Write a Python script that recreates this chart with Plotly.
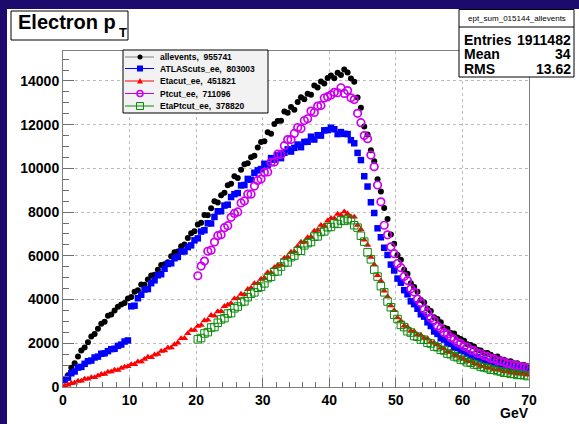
import numpy as np
import plotly.graph_objects as go

# ---------------- data (0.5 GeV bins, 0-70 GeV) ----------------
bin_edges = np.arange(0.0, 70.5, 0.5)
bin_centres = 0.5 * (bin_edges[:-1] + bin_edges[1:])

allevents = [
    330, 540, 880, 1090, 1400, 1670, 1810, 2050, 2310, 2420, 2660, 2890, 2980, 3260, 3320, 3500, 3670, 3770, 3840, 4050,
    4120, 4360, 4430, 4690, 4680, 4920, 5100, 5140, 5360, 5580, 5610, 5710, 5980, 6160, 6200, 6440, 6520, 6820, 7030, 7120,
    7430, 7510, 7870, 7860, 8180, 8500, 8440, 8770, 8890, 9230, 9300, 9640, 9560, 9940, 10190, 10230, 10510, 10580, 10960, 11210,
    11240, 11650, 11590, 12030, 12170, 12180, 12600, 12540, 12810, 12680, 13040, 13260, 13160, 13410, 13370, 13790, 13700, 13970, 13880, 14140,
    14250, 14120, 14370, 14270, 14520, 14390, 14110, 13960, 13240, 12770, 11920, 11550, 10830, 10330, 9500, 8940, 8190, 7690, 6980, 6550,
    6040, 5820, 5360, 5180, 4750, 4580, 4360, 3980, 3870, 3590, 3480, 3190, 3110, 2960, 2720, 2660, 2470, 2450, 2260, 2200,
    2110, 1950, 1920, 1850, 1700, 1670, 1550, 1550, 1480, 1370, 1390, 1270, 1250, 1170, 1180, 1090, 1090, 1000, 1010, 950,
]
atlascuts_ee = [
    320, 430, 630, 710, 890, 920, 1060, 1180, 1210, 1350, 1390, 1520, 1540, 1640, 1730, 1750, 1880, 1940, 2080, 2130,
    3690, 3720, 4060, 4220, 4460, 4480, 4750, 4880, 5110, 5160, 5410, 5630, 5660, 5890, 5950, 6200, 6200, 6400, 6480, 6710,
    6800, 7110, 7170, 7490, 7480, 7780, 8040, 8040, 8300, 8340, 8690, 8820, 8870, 9220, 9240, 9520, 9480, 9800, 9910, 9970,
    10210, 10160, 10470, 10400, 10600, 10470, 10710, 10870, 10770, 10940, 11090, 10970, 11210, 11220, 11450, 11320, 11520, 11500, 11740, 11750,
    11860, 11790, 11570, 11660, 11580, 11570, 11290, 11150, 10710, 10380, 9640, 9170, 8450, 7960, 7260, 6850, 6370, 6040, 5600, 5330,
    4960, 4770, 4430, 4240, 3920, 3790, 3580, 3330, 3220, 2960, 2790, 2540, 2430, 2230, 2170, 2030, 1970, 1820, 1780, 1660,
    1630, 1510, 1480, 1370, 1370, 1270, 1250, 1150, 1150, 1080, 1070, 980, 980, 950, 880, 880, 820, 830, 770, 770,
]
etacut_ee = [
    70, 100, 170, 190, 270, 280, 370, 370, 440, 440, 520, 580, 590, 690, 700, 780, 770, 860, 920, 940,
    1030, 1040, 1160, 1160, 1270, 1370, 1350, 1470, 1500, 1640, 1660, 1790, 1800, 1940,
    2020, 2220, 2230, 2450, 2600, 2600, 2780, 2830, 3040, 3070, 3280, 3250, 3450, 3460, 3690, 3760, 3820, 4040, 4050, 4250, 4230, 4470, 4530, 4740, 4740, 4940,
    4990, 5240, 5230, 5470, 5570, 5590, 5900, 5950, 6180, 6190, 6440, 6630, 6630, 6840, 6870, 7140, 7180, 7400, 7380, 7600,
    7720, 7710, 7910, 7860, 8020, 7930, 7790, 7780, 7400, 7210, 6730, 6490, 5940, 5600, 5110, 4860, 4400, 4140, 3720, 3500,
    3170, 3020, 2800, 2750, 2560, 2540, 2390, 2380, 2240, 2210, 2050, 2020, 1940, 1790, 1750, 1620, 1590, 1460, 1420, 1320,
    1280, 1180, 1170, 1070, 1050, 950, 950, 880, 870, 790, 790, 770, 700, 710, 650, 660, 600, 610, 590, 550,
]
# Ptcut / EtaPtcut are empty below 20 GeV
ptcut_ee = [
    5090, 5530, 5760, 6210, 6260, 6630, 6920, 6970, 7290, 7380, 7760, 7940, 8010, 8420, 8510, 8820, 8820, 9190, 9450, 9510,
    9820, 9840, 10280, 10290, 10650, 10640, 11040, 11320, 11320, 11600, 11870, 11820, 12190, 12270, 12620, 12560, 12850, 12880, 13220, 13280,
    13360, 13480, 13460, 13690, 13430, 13560, 13230, 13150, 12520, 12090, 11500, 11360, 10610, 10080, 9240, 8470, 7400, 6960, 6410, 6100,
    5650, 5460, 5060, 4870, 4490, 4340, 4020, 3850, 3560, 3410, 3160, 3040, 2790, 2680, 2490, 2420, 2250, 2180, 2030, 1980,
    1850, 1820, 1690, 1660, 1540, 1520, 1430, 1400, 1300, 1290, 1200, 1180, 1140, 1060, 1050, 990, 980, 910, 910, 880,
]
etaptcut_ee = [
    2180, 2240, 2450, 2510, 2720, 2740, 2940, 3090, 3150, 3360, 3380, 3600, 3680, 3890, 3920, 4110, 4270, 4330, 4540, 4590,
    4740, 4980, 5040, 5270, 5290, 5510, 5700, 5700, 5940, 6010, 6230, 6230, 6480, 6580, 6630, 6880, 6890, 7090, 7120, 7310,
    7320, 7480, 7460, 7620, 7600, 7680, 7630, 7400, 7290, 6920, 6650, 6160, 5840, 5370, 5050, 4610, 4330, 3910, 3650, 3310,
    3110, 2840, 2740, 2550, 2490, 2330, 2300, 2170, 2160, 2020, 1990, 1850, 1820, 1700, 1670, 1530, 1500, 1400, 1360, 1250,
    1230, 1130, 1110, 1030, 1010, 920, 900, 860, 790, 790, 730, 710, 650, 660, 600, 600, 550, 560, 540, 500,
]

series_names = ["allevents,  955741", "ATLAScuts_ee,  803003", "Etacut_ee,  451821",
                "Ptcut_ee,  711096", "EtaPtcut_ee,  378820"]
stats_title = "ept_sum_015144_allevents"
stats_rows = [("Entries", "1911482"), ("Mean", "34"), ("RMS", "13.62")]

# ---------------- styling ----------------
W_FIG, H_FIG = 579, 424
PL, PR, PT, PB = 63, 529, 51, 387
PW, PH = PR - PL, PB - PT
NAVY = "#1c0a6c"
FONT = "Liberation Sans"

def px(x):
    return (x - PL) / PW

def py(y):
    return (PB - y) / PH

colors = ["#000000", "#0000ff", "#ff0000", "#cc00ee", "#0a8a0a"]
line_cols = ["#808080", "#0000ff", "#ff0000", "#cc00ee", "#0a8a0a"]

fig = go.Figure()
x_all = bin_centres
x_hi = bin_centres[40:]

fig.add_trace(go.Scatter(x=x_all, y=allevents, mode="markers",
                         marker=dict(symbol="circle", size=6, color=colors[0])))
fig.add_trace(go.Scatter(x=x_all, y=atlascuts_ee, mode="markers",
                         marker=dict(symbol="square", size=6.5, color=colors[1])))
fig.add_trace(go.Scatter(x=x_all, y=etacut_ee, mode="markers",
                         marker=dict(symbol="triangle-up", size=6.5, color=colors[2])))
fig.add_trace(go.Scatter(x=x_hi, y=ptcut_ee, mode="markers",
                         marker=dict(symbol="circle-open", size=7.5, color=colors[3],
                                     line=dict(width=1.7, color=colors[3]))))
fig.add_trace(go.Scatter(x=x_hi, y=etaptcut_ee, mode="markers",
                         marker=dict(symbol="square-open", size=7.5, color=colors[4],
                                     line=dict(width=1, color=colors[4]))))

axis_common = dict(
    showline=True, linecolor="#808080", linewidth=1, mirror=True,
    ticks="inside", tickcolor="#707070", tickwidth=1,
    showgrid=True, gridcolor="#bcbcbc", griddash="dot", gridwidth=1,
    zeroline=False,
    tickfont=dict(family=FONT, size=14, color="black", weight="bold"),
    tickformat="d",
)
fig.update_xaxes(range=[0, 70], dtick=10, ticklen=9,
                 minor=dict(dtick=2, ticklen=5, ticks="inside", tickcolor="#707070", showgrid=False),
                 **axis_common)
fig.update_yaxes(range=[0, 15370], dtick=2000, ticklen=11,
                 minor=dict(dtick=500, ticklen=6, ticks="inside", tickcolor="#707070", showgrid=False),
                 **axis_common)

shapes = []
# white canvas (navy strips remain at top and left)
shapes.append(dict(type="rect", xref="paper", yref="paper", layer="below",
                   x0=px(7), x1=px(W_FIG + 5), y0=py(9), y1=py(H_FIG + 5),
                   fillcolor="white", line=dict(width=0)))
# title box
shapes.append(dict(type="rect", xref="paper", yref="paper", layer="above",
                   x0=px(11), x1=px(128), y0=py(40), y1=py(11),
                   fillcolor="white", line=dict(color="black", width=1)))
# stats box
shapes.append(dict(type="rect", xref="paper", yref="paper", layer="above",
                   x0=px(459), x1=px(574), y0=py(77), y1=py(9.5),
                   fillcolor="white", line=dict(color="black", width=1)))
shapes.append(dict(type="line", xref="paper", yref="paper", layer="above",
                   x0=px(459), x1=px(574), y0=py(27), y1=py(27),
                   line=dict(color="black", width=1)))
# legend box
shapes.append(dict(type="rect", xref="paper", yref="paper", layer="above",
                   x0=px(123), x1=px(268), y0=py(113), y1=py(50),
                   fillcolor="#f2f2f2", line=dict(color="black", width=1)))

annotations = []
leg_rows = [57, 68.5, 81, 93.5, 106]
mx = 140
for i, (name, yy) in enumerate(zip(series_names, leg_rows)):
    shapes.append(dict(type="line", xref="paper", yref="paper", layer="above",
                       x0=px(125), x1=px(154), y0=py(yy), y1=py(yy),
                       line=dict(color=line_cols[i], width=1)))
    c = colors[i]
    if i == 0:
        r = 2.5
        shapes.append(dict(type="circle", xref="paper", yref="paper", layer="above",
                           x0=px(mx - r), x1=px(mx + r), y0=py(yy + r), y1=py(yy - r),
                           fillcolor=c, line=dict(color=c, width=0)))
    elif i == 1:
        r = 3
        shapes.append(dict(type="rect", xref="paper", yref="paper", layer="above",
                           x0=px(mx - r), x1=px(mx + r), y0=py(yy + r), y1=py(yy - r),
                           fillcolor=c, line=dict(color=c, width=0)))
    elif i == 2:
        xa, xb, xc = px(mx - 3), px(mx + 3), px(mx)
        ya, yc = py(yy + 2.5), py(yy - 3)
        shapes.append(dict(type="path", xref="paper", yref="paper", layer="above",
                           path=f"M {xa} {ya} L {xb} {ya} L {xc} {yc} Z",
                           fillcolor=c, line=dict(color=c, width=0)))
    elif i == 3:
        r = 3
        shapes.append(dict(type="circle", xref="paper", yref="paper", layer="above",
                           x0=px(mx - r), x1=px(mx + r), y0=py(yy + r), y1=py(yy - r),
                           fillcolor="rgba(0,0,0,0)", line=dict(color=c, width=1.6)))
    else:
        r = 3.5
        shapes.append(dict(type="rect", xref="paper", yref="paper", layer="above",
                           x0=px(mx - r), x1=px(mx + r), y0=py(yy + r), y1=py(yy - r),
                           fillcolor="rgba(0,0,0,0)", line=dict(color=c, width=1)))
    annotations.append(dict(xref="paper", yref="paper", x=px(158), y=py(yy),
                            xanchor="left", yanchor="middle", showarrow=False,
                            text=f"<b>{name}</b>",
                            font=dict(family=FONT, size=8.5, color="black")))

# title
annotations.append(dict(xref="paper", yref="paper", x=px(16), y=py(22.5),
                        xanchor="left", yanchor="middle", showarrow=False,
                        text="<b>Electron p</b>",
                        font=dict(family=FONT, size=20, color="black")))
annotations.append(dict(xref="paper", yref="paper", x=px(116.5), y=py(33),
                        xanchor="left", yanchor="middle", showarrow=False,
                        text="<b>T</b>",
                        font=dict(family=FONT, size=13, color="black")))
# stats
annotations.append(dict(xref="paper", yref="paper", x=px(516.5), y=py(18.5),
                        xanchor="center", yanchor="middle", showarrow=False,
                        text=stats_title,
                        font=dict(family=FONT, size=8, color="black")))
for (lab, val), yy in zip(stats_rows, [40, 54, 68.5]):
    annotations.append(dict(xref="paper", yref="paper", x=px(463), y=py(yy),
                            xanchor="left", yanchor="middle", showarrow=False,
                            borderpad=0,
                            text=f"<b>{lab}</b>",
                            font=dict(family=FONT, size=14, color="black")))
    annotations.append(dict(xref="paper", yref="paper", x=px(572), y=py(yy),
                            xanchor="right", yanchor="middle", showarrow=False,
                            borderpad=0,
                            text=f"<b>{val}</b>",
                            font=dict(family=FONT, size=14, color="black")))
# x-axis title
annotations.append(dict(xref="paper", yref="paper", x=px(531), y=py(413),
                        xanchor="right", yanchor="middle", showarrow=False,
                        text="<b>GeV</b>",
                        font=dict(family=FONT, size=14, color="black")))

fig.update_layout(
    width=W_FIG, height=H_FIG,
    margin=dict(l=PL, r=W_FIG - PR, t=PT, b=H_FIG - PB, pad=0),
    paper_bgcolor=NAVY, plot_bgcolor="white",
    showlegend=False,
    shapes=shapes, annotations=annotations,
    font=dict(family=FONT),
)

fig.write_html("out.html")
